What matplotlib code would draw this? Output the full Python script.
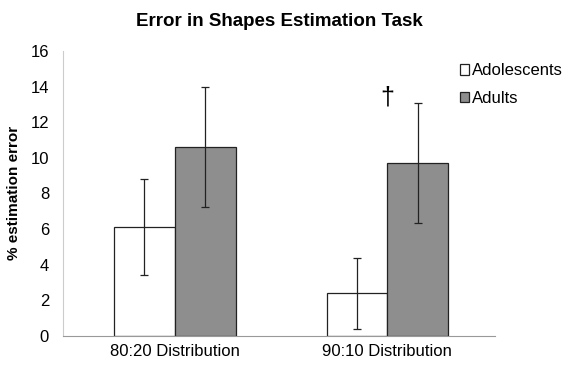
import numpy as np
import matplotlib
matplotlib.use("Agg")
import matplotlib.pyplot as plt

plt.rcParams['font.family'] = ['Liberation Sans', 'DejaVu Sans']

conditions = ['80:20 Distribution', '90:10 Distribution']
groups = ['Adolescents', 'Adults']
adolescents = [6.1, 2.4]
adolescents_err = [2.7, 2.0]
adults = [10.6, 9.7]
adults_err = [3.35, 3.35]
yticks = [0, 2, 4, 6, 8, 10, 12, 14, 16]

fig = plt.figure(figsize=(5.62, 3.66), dpi=100)
ax = fig.add_axes([0.112, 0.082, 0.769, 0.779])

x = np.arange(len(conditions))
w = 0.286
b1 = ax.bar(x - w/2, adolescents, w, yerr=adolescents_err, color='white',
            edgecolor='#222222', linewidth=0.9, label=groups[0],
            error_kw=dict(ecolor='#222222', elinewidth=0.9, capsize=3, capthick=0.9))
b2 = ax.bar(x + w/2, adults, w, yerr=adults_err, color='#8e8e8e',
            edgecolor='#222222', linewidth=0.9, label=groups[1],
            error_kw=dict(ecolor='#222222', elinewidth=0.9, capsize=3, capthick=0.9))

# significance marker above the 90:10 bars
ax.text(x[1], 13.4, '\u2020', ha='center', va='center', fontsize=18)

ax.set_xlim(-0.526, 1.507)
ax.set_ylim(0, 16)
ax.set_yticks(yticks)
ax.set_xticks(x)
ax.set_xticklabels(conditions, fontsize=12)
ax.tick_params(axis='y', labelsize=12, length=0, pad=10)
ax.tick_params(axis='x', length=0, pad=6)
ax.set_ylabel('% estimation error', fontsize=11, fontweight='bold', labelpad=7)
ax.set_title('Error in Shapes Estimation Task', fontsize=13.5, fontweight='bold', pad=18)

for s in ['top', 'right']:
    ax.spines[s].set_visible(False)
ax.spines['left'].set_color('#cccccc')
ax.spines['bottom'].set_color('#999999')

fig.legend(handles=[b1, b2], labels=groups, loc='upper left',
           bbox_to_anchor=(0.807, 0.845), frameon=False, fontsize=12,
           handlelength=0.55, handleheight=0.55, handletextpad=0.15,
           labelspacing=0.75, borderaxespad=0)

fig.savefig('out.png', dpi=100)
